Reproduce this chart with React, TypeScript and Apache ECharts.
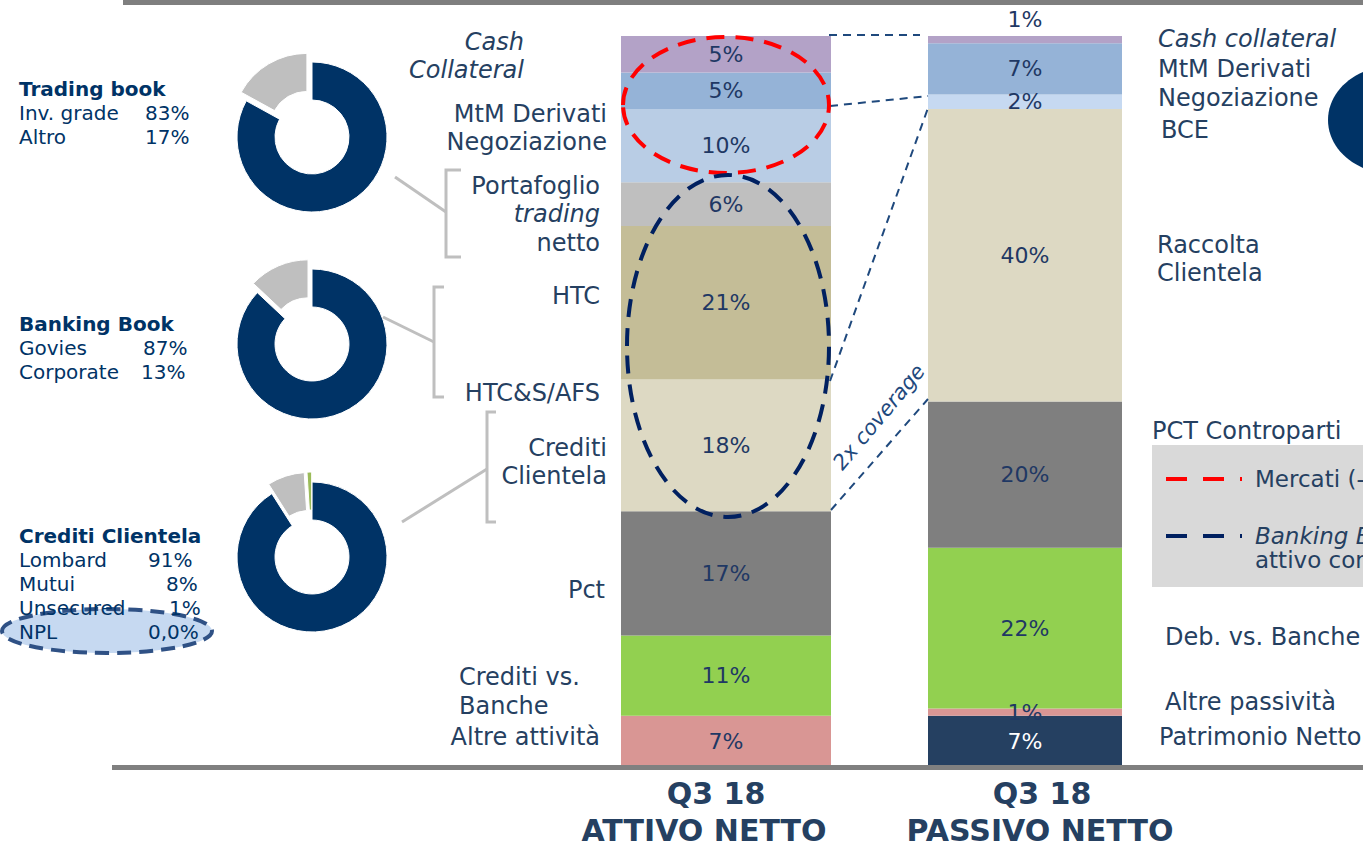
import React, { useEffect, useRef } from "react";
import * as echarts from "echarts";

// ---------- DATA ----------
const barCategories = ["Q3 18|ATTIVO NETTO", "Q3 18|PASSIVO NETTO"];

// top-to-bottom order
const attivoNames = [
  "Cash Collateral",
  "MtM Derivati Negoziazione",
  "Portafoglio trading netto",
  "HTC",
  "HTC&S/AFS",
  "Crediti Clientela",
  "Pct",
  "Crediti vs. Banche",
  "Altre attività",
];
const attivoValues = [5, 5, 10, 6, 21, 18, 17, 11, 7];

const passivoNames = [
  "Cash collateral",
  "MtM Derivati Negoziazione",
  "BCE",
  "Raccolta Clientela",
  "PCT Controparti",
  "Deb. vs. Banche",
  "Altre passività",
  "Patrimonio Netto",
];
const passivoValues = [1, 7, 2, 40, 20, 22, 1, 7];

const tradingTitle = "Trading book";
const tradingNames = ["Inv. grade", "Altro"];
const tradingValues = [83, 17];

const bankingTitle = "Banking Book";
const bankingNames = ["Govies", "Corporate"];
const bankingValues = [87, 13];

const creditiTitle = "Crediti Clientela";
const creditiNames = ["Lombard", "Mutui", "Unsecured", "NPL"];
const creditiValues = [91, 8, 1, 0];
const creditiValueLabels = ["91%", "8%", "1%", "0,0%"];

const legendItems = ["Mercati (-", "Banking Book"];

// ---------- STYLES ----------
const FONT = '"DejaVu Sans", Verdana, sans-serif';
const NAVY_TXT = "#254061";
const LBL = "#1F3864";
const attivoColors = ["#B3A2C7", "#95B3D7", "#B9CDE5", "#BFBFBF", "#C4BD97", "#DDD9C3", "#7F7F7F", "#92D050", "#D99694"];
const passivoColors = ["#B3A2C7", "#95B3D7", "#C6D9F1", "#DDD9C3", "#7F7F7F", "#92D050", "#D99694", "#254061"];
const pieColors = ["#003366", "#BFBFBF", "#9BBB59", "#9BBB59"];

function txt(text: string, x: number, y: number, opts: any = {}) {
  const size = opts.size ?? 24;
  const weight = opts.bold ? "bold " : "";
  const ital = opts.italic ? "italic " : "";
  return {
    type: "text",
    z: opts.z ?? 20,
    x,
    y,
    rotation: opts.rotation ?? 0,
    style: {
      text,
      x: 0,
      y: 0,
      font: `${ital}${weight}${size}px ${FONT}`,
      fill: opts.color ?? NAVY_TXT,
      textAlign: opts.align ?? "left",
      textVerticalAlign: "middle",
    },
  };
}

export default function App() {
  const ref = useRef<HTMLDivElement>(null);

  useEffect(() => {
    document.body.style.margin = "0";
    if (!ref.current) return;
    const chart = echarts.init(ref.current, null, { renderer: "svg" });

    const series: any[] = [];
    // Attivo bar (stack bottom-up)
    for (let i = attivoValues.length - 1; i >= 0; i--) {
      series.push({
        type: "bar",
        name: attivoNames[i],
        xAxisIndex: 0,
        yAxisIndex: 0,
        stack: "attivo",
        barWidth: "100%",
        data: [attivoValues[i]],
        itemStyle: { color: attivoColors[i] },
        label: {
          show: true,
          position: "inside",
          formatter: "{c}%",
          color: LBL,
          fontSize: 22,
          fontFamily: FONT,
        },
      });
    }
    for (let i = passivoValues.length - 1; i >= 0; i--) {
      const isTop = i === 0;
      const isBottom = i === passivoValues.length - 1;
      series.push({
        type: "bar",
        name: passivoNames[i],
        xAxisIndex: 1,
        yAxisIndex: 1,
        stack: "passivo",
        barWidth: "100%",
        data: [passivoValues[i]],
        itemStyle: { color: passivoColors[i] },
        label: {
          show: true,
          position: isTop ? "top" : "inside",
          distance: 6,
          formatter: "{c}%",
          color: isBottom ? "#FFFFFF" : LBL,
          fontSize: 22,
          fontFamily: FONT,
        },
      });
    }

    const pie = (center: number[], values: number[], names: string[]) => ({
      type: "pie",
      center,
      radius: [37, 75],
      startAngle: 90,
      clockwise: true,
      selectedMode: "multiple",
      selectedOffset: 10,
      silent: true,
      label: { show: false },
      labelLine: { show: false },
      emphasis: { disabled: true },
      itemStyle: { borderColor: "#FFFFFF", borderWidth: 1 },
      data: values
        .map((v, i) => ({
          name: names[i],
          value: v,
          selected: i > 0,
          itemStyle: { color: pieColors[i] },
        }))
        .filter((d) => d.value > 0),
    });
    series.push(pie([312, 137], tradingValues, tradingNames));
    series.push(pie([312, 344], bankingValues, bankingNames));
    series.push(pie([312, 557], creditiValues, creditiNames));

    const g: any[] = [];
    // top & bottom rules
    g.push({ type: "rect", z: 30, shape: { x: 123, y: 0, width: 1240, height: 5 }, style: { fill: "#7F7F7F" } });
    g.push({ type: "rect", z: 30, shape: { x: 112, y: 765, width: 1251, height: 5 }, style: { fill: "#808080" } });

    // left panel texts
    const panel = (title: string, names: string[], vals: string[], y0: number, valX: number[]) => {
      g.push(txt(title, 19, y0, { size: 20, bold: true, color: "#003366" }));
      names.forEach((n, i) => {
        g.push(txt(n, 19, y0 + 24 * (i + 1), { size: 20, color: "#003366" }));
        g.push(txt(vals[i], valX[i], y0 + 24 * (i + 1), { size: 20, color: "#003366" }));
      });
    };
    // NPL highlight ellipse (under text)
    g.push({
      type: "ellipse",
      z: 5,
      shape: { cx: 107, cy: 631, rx: 105, ry: 22 },
      style: { fill: "#C6D9F1", stroke: "#2F5185", lineWidth: 4, lineDash: [14, 8] },
    });
    panel(tradingTitle, tradingNames, tradingValues.map((v) => v + "%"), 89, [145, 145]);
    panel(bankingTitle, bankingNames, bankingValues.map((v) => v + "%"), 324, [143, 141]);
    panel(creditiTitle, creditiNames, creditiValueLabels, 536, [148, 166, 169, 148]);

    // gray connectors and brackets
    const grayLine = { stroke: "#BFBFBF", lineWidth: 3, fill: null };
    g.push({ type: "line", z: 10, shape: { x1: 395, y1: 177, x2: 446, y2: 212 }, style: grayLine });
    g.push({ type: "polyline", z: 10, shape: { points: [[461, 170], [446, 170], [446, 257], [461, 257]] }, style: grayLine });
    g.push({ type: "line", z: 10, shape: { x1: 383, y1: 317, x2: 434, y2: 342 }, style: grayLine });
    g.push({ type: "polyline", z: 10, shape: { points: [[444, 287], [434, 287], [434, 397], [444, 397]] }, style: grayLine });
    g.push({ type: "line", z: 10, shape: { x1: 402, y1: 522, x2: 487, y2: 469 }, style: grayLine });
    g.push({ type: "polyline", z: 10, shape: { points: [[496, 412], [487, 412], [487, 522], [496, 522]] }, style: grayLine });

    // attivo side labels
    const leftLabels: [string, number, number, any][] = [
      ["Cash", 524, 42, { italic: true, align: "right" }],
      ["Collateral", 524, 70, { italic: true, align: "right" }],
      ["MtM Derivati", 607, 114, { align: "right" }],
      ["Negoziazione", 607, 142, { align: "right" }],
      ["Portafoglio", 600, 186, { align: "right" }],
      ["trading", 600, 214, { italic: true, align: "right" }],
      ["netto", 600, 243, { align: "right" }],
      ["HTC", 600, 296, { align: "right" }],
      ["HTC&S/AFS", 600, 393, { align: "right" }],
      ["Crediti", 607, 448, { align: "right" }],
      ["Clientela", 607, 476, { align: "right" }],
      ["Pct", 605, 590, { align: "right" }],
      ["Crediti vs.", 459, 677, {}],
      ["Banche", 459, 706, {}],
      ["Altre attività", 600, 737, { align: "right" }],
    ];
    leftLabels.forEach(([t, x, y, o]) => g.push(txt(t, x, y, o)));

    const rightLabels: [string, number, number, any][] = [
      ["Cash collateral", 1158, 39, { italic: true }],
      ["MtM Derivati", 1158, 69, {}],
      ["Negoziazione", 1158, 98, {}],
      ["BCE", 1161, 130, {}],
      ["Raccolta", 1157, 245, {}],
      ["Clientela", 1157, 273, {}],
      ["PCT Controparti", 1152, 431, {}],
      ["Deb. vs. Banche", 1165, 637, {}],
      ["Altre passività", 1165, 702, {}],
      ["Patrimonio Netto", 1159, 737, {}],
    ];
    rightLabels.forEach(([t, x, y, o]) => g.push(txt(t, x, y, o)));

    // navy ellipse at right edge
    g.push({ type: "ellipse", z: 10, shape: { cx: 1393, cy: 120, rx: 65, ry: 54 }, style: { fill: "#003366" } });

    // legend box
    g.push({ type: "rect", z: 8, shape: { x: 1152, y: 445, width: 230, height: 142 }, style: { fill: "#D9D9D9" } });
    g.push({ type: "line", z: 10, shape: { x1: 1166, y1: 479, x2: 1242, y2: 479 }, style: { stroke: "#FF0000", lineWidth: 4, lineDash: [21, 16] } });
    g.push({ type: "line", z: 10, shape: { x1: 1166, y1: 536, x2: 1242, y2: 536 }, style: { stroke: "#002060", lineWidth: 4, lineDash: [21, 16] } });
    g.push(txt(legendItems[0], 1255, 479, { size: 23 }));
    g.push(txt(legendItems[1], 1255, 536, { italic: true, size: 23 }));
    g.push(txt("attivo complessivo", 1255, 560, { size: 23 }));

    // dashed connectors between bars
    const conn = { stroke: "#1F497D", lineWidth: 2, lineDash: [8, 6] };
    g.push({ type: "line", z: 10, shape: { x1: 829, y1: 35, x2: 920, y2: 35 }, style: conn });
    g.push({ type: "line", z: 10, shape: { x1: 830, y1: 106, x2: 928, y2: 96 }, style: conn });
    g.push({ type: "line", z: 10, shape: { x1: 830, y1: 381, x2: 928, y2: 108 }, style: conn });
    g.push({ type: "line", z: 10, shape: { x1: 831, y1: 510, x2: 928, y2: 399 }, style: conn });
    g.push(txt("2x coverage", 879, 417, { size: 21, italic: true, align: "center", rotation: (50 * Math.PI) / 180, color: "#1F497D" }));

    // highlight ellipses on attivo bar
    g.push({ type: "ellipse", z: 12, shape: { cx: 726, cy: 105, rx: 103, ry: 68 }, style: { fill: null, stroke: "#FF0000", lineWidth: 4, lineDash: [18, 11] } });
    g.push({ type: "ellipse", z: 12, shape: { cx: 728, cy: 346, rx: 101, ry: 171 }, style: { fill: null, stroke: "#002060", lineWidth: 4, lineDash: [18, 11] } });

    // category labels
    const catPos = [
      [716, 704],
      [1042, 1040],
    ];
    barCategories.forEach((c, i) => {
      const [l1, l2] = c.split("|");
      g.push(txt(l1, catPos[i][0], 793, { size: 30, bold: true, align: "center" }));
      g.push(txt(l2, catPos[i][1], 830, { size: 30, bold: true, align: "center" }));
    });

    chart.setOption({
      animation: false,
      grid: [
        { left: 621, width: 210, top: 36, height: 731 },
        { left: 928, width: 194, top: 36, height: 731 },
      ],
      xAxis: [
        { type: "category", gridIndex: 0, data: [barCategories[0]], show: false },
        { type: "category", gridIndex: 1, data: [barCategories[1]], show: false },
      ],
      yAxis: [
        { type: "value", gridIndex: 0, min: 0, max: 100, show: false },
        { type: "value", gridIndex: 1, min: 0, max: 100, show: false },
      ],
      series,
      graphic: g,
    });

    return () => chart.dispose();
  }, []);

  return <div ref={ref} style={{ width: 1363, height: 843 }} />;
}
